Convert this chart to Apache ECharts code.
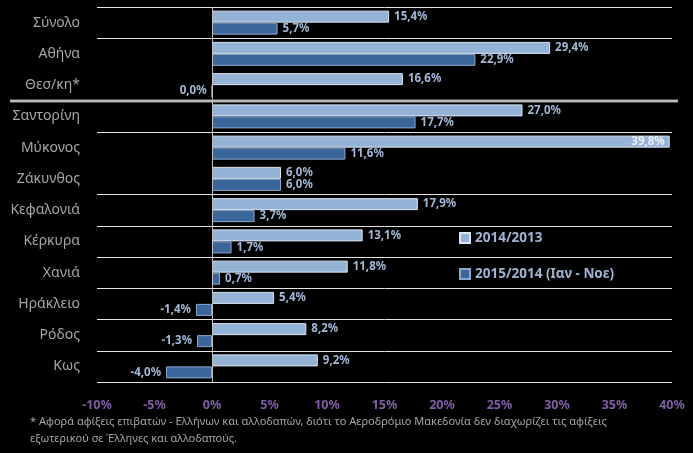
<!DOCTYPE html>
<html>
<head>
<meta charset="utf-8">
<script src="https://cdn.jsdelivr.net/npm/echarts@6/dist/echarts.min.js"></script>
<style>
html,body{margin:0;padding:0;background:#000;}
#c{width:693px;height:453px;}
</style>
</head>
<body>
<div id="c"></div>
<script>
const categories = ['Σύνολο','Αθήνα','Θεσ/κη*','Σαντορίνη','Μύκονος','Ζάκυνθος','Κεφαλονιά','Κέρκυρα','Χανιά','Ηράκλειο','Ρόδος','Κως'];
const series2014 = [15.4, 29.4, 16.6, 27.0, 39.8, 6.0, 17.9, 13.1, 11.8, 5.4, 8.2, 9.2];
const series2015 = [5.7, 22.9, 0.0, 17.7, 11.6, 6.0, 3.7, 1.7, 0.7, -1.4, -1.3, -4.0];
const seriesNames = ['2014/2013', '2015/2014 (Ιαν - Νοε)'];
const xTicks = [-10, -5, 0, 5, 10, 15, 20, 25, 30, 35, 40];
const footnote = '* Αφορά αφίξεις επιβατών - Ελλήνων και αλλοδαπών, διότι το Αεροδρόμιο Μακεδονία δεν διαχωρίζει τις αφίξεις\nεξωτερικού σε Έλληνες και αλλοδαπούς.';

const FONT = '"Noto Sans", "DejaVu Sans", sans-serif';
const fmt = v => v.toFixed(1).replace('.', ',') + '%';
const labelColor = '#A3B9D8';

function buildData(vals) {
  return vals.map(v => {
    const item = { value: v };
    if (v >= 35) {
      item.label = { position: 'insideRight', color: '#E8EEF6' };
    } else if (v <= 0) {
      item.label = { position: 'left' };
    }
    return item;
  });
}

const chart = echarts.init(document.getElementById('c'));
const option = {
  backgroundColor: '#000',
  animation: false,
  grid: { left: 97, right: 21, top: 7, bottom: 71, containLabel: false, outerBoundsMode: 'none' },
  legend: {
    orient: 'vertical',
    left: 454,
    top: 226,
    itemWidth: 10,
    itemHeight: 10,
    itemGap: 22,
    icon: 'rect',
    textStyle: { color: '#9FB4D2', fontFamily: FONT, fontSize: 13.5, fontWeight: 'bold' },
    data: seriesNames
  },
  xAxis: {
    type: 'value',
    min: -10, max: 40, interval: 5,
    axisLine: { show: false },
    axisTick: { show: false },
    splitLine: { show: false },
    axisLabel: {
      color: '#7E5FA6', fontFamily: FONT, fontSize: 12.5, fontWeight: 'bold', margin: 17,
      formatter: v => xTicks.includes(v) ? v + '%' : ''
    }
  },
  yAxis: {
    type: 'category',
    inverse: true,
    data: categories,
    axisLine: { show: false, onZero: false },
    axisTick: { show: false },
    axisLabel: { color: '#A6A6A6', fontFamily: FONT, fontSize: 14, margin: 17 },
    splitLine: {
      show: true,
      lineStyle: { color: '#E6E6E6', width: 1 },
      interval: (idx) => idx !== 2 && idx !== 5
    }
  },
  series: [
    {
      name: seriesNames[0],
      type: 'bar',
      data: buildData(series2014),
      barWidth: 12,
      barGap: '0%',
      itemStyle: { color: '#95B3D7', borderColor: '#DCE6F2', borderWidth: 1 },
      label: {
        show: true, position: 'right', distance: 5,
        color: labelColor, fontFamily: FONT, fontSize: 11.5, fontWeight: 'bold',
        formatter: p => fmt(p.value)
      },
      markLine: {
        silent: true, symbol: 'none', label: { show: false },
        lineStyle: { color: '#BFBFBF', width: 1, type: 'solid' },
        data: [{ xAxis: 0 }]
      }
    },
    {
      name: seriesNames[1],
      type: 'bar',
      data: buildData(series2015),
      barWidth: 12,
      itemStyle: { color: '#3A6699', borderColor: '#8EA9CC', borderWidth: 1 },
      label: {
        show: true, position: 'right', distance: 5,
        color: labelColor, fontFamily: FONT, fontSize: 11.5, fontWeight: 'bold',
        formatter: p => fmt(p.value)
      }
    }
  ],
  graphic: [
    {
      type: 'text', left: 30, top: 413,
      style: { text: footnote, fill: '#A6A6A6', font: '11px ' + FONT, lineHeight: 17 }
    }
  ]
};
chart.setOption(option);

// separator between the airport group and the islands group
const yA = chart.convertToPixel({ yAxisIndex: 0 }, categories[2]);
const yB = chart.convertToPixel({ yAxisIndex: 0 }, categories[3]);
const ySep = Math.round((yA + yB) / 2);
chart.setOption({
  graphic: [
    option.graphic[0],
    { type: 'rect', shape: { x: 10, y: ySep - 1.5, width: 668, height: 3 }, style: { fill: '#9A9A9A' }, z: 10 },
    { type: 'line', shape: { x1: 10, y1: ySep, x2: 678, y2: ySep }, style: { stroke: '#D9D9D9', lineWidth: 1 }, z: 11 }
  ]
});
</script>
</body>
</html>
